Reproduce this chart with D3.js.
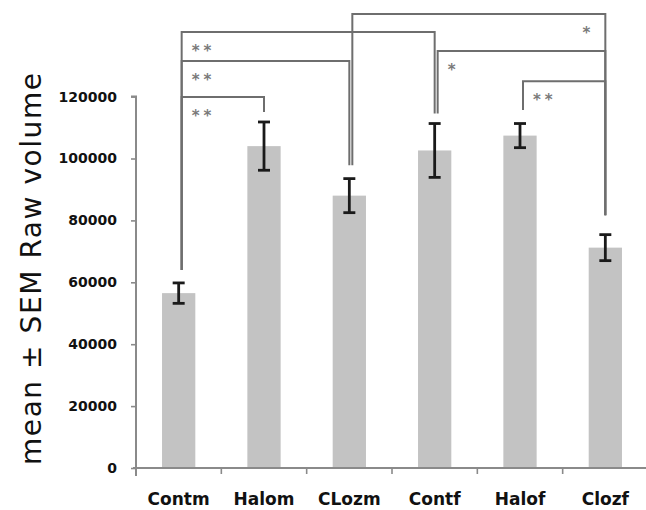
<!DOCTYPE html>
<html>
<head>
<meta charset="utf-8">
<script src="https://cdn.jsdelivr.net/npm/d3@7"></script>
<style>
  html, body { margin: 0; padding: 0; background: #fff; }
  svg { display: block; }
</style>
</head>
<body>
<svg id="chart" width="646" height="510"></svg>
<script>
// Group labels, group means and their standard errors
const categories = ["Contm", "Halom", "CLozm", "Contf", "Halof", "Clozf"];
const means = [56500, 104000, 88000, 102600, 107400, 71200];
const sems = [3300, 7800, 5500, 8700, 3900, 4200];
const yTicks = [0, 20000, 40000, 60000, 80000, 100000, 120000];
const yTitle = "mean \u00B1 SEM Raw volume";

// Significance brackets: which two groups, the level of the bar, the mark
const bracketPairs = [[0, 3], [0, 2], [0, 1], [2, 5], [3, 5], [4, 5]];
const bracketLevels = [140900, 131500, 119900, 146700, 134700, 125000];
const bracketMarks = ["**", "**", "**", "*", "*", "**"];
const bracketMarkSide = ["left", "left", "left", "right", "left", "left"];
// Where the bracket legs stop above each group
const legEnds = [64000, 115000, 97800, 114500, 115700, 81700];

const svg = d3.select("#chart");

const x = d3.scaleBand().domain(categories).range([136, 648]).paddingInner(0).paddingOuter(0);
const y = d3.scaleLinear().domain([0, 120000]).range([468, 96.6]);
const barW = x.bandwidth() * 0.39;
const cx = c => x(c) + x.bandwidth() / 2;

// Bars
svg.append("g").selectAll("rect")
  .data(categories)
  .join("rect")
  .attr("x", c => cx(c) - barW / 2)
  .attr("y", (c, i) => y(means[i]))
  .attr("width", barW)
  .attr("height", (c, i) => y(0) - y(means[i]))
  .attr("fill", "#c3c3c3");

// Error bars
const eb = svg.append("g").attr("stroke", "#1a1a1a").attr("stroke-width", 2.8);
categories.forEach((c, i) => {
  const xc = cx(c), lo = y(means[i] - sems[i]), hi = y(means[i] + sems[i]);
  eb.append("line").attr("x1", xc).attr("x2", xc).attr("y1", lo).attr("y2", hi);
  eb.append("line").attr("x1", xc - 6).attr("x2", xc + 6).attr("y1", lo).attr("y2", lo);
  eb.append("line").attr("x1", xc - 6).attr("x2", xc + 6).attr("y1", hi).attr("y2", hi);
});

// Y axis
const yAxis = d3.axisLeft(y).tickValues(yTicks).tickFormat(d3.format("d")).tickSize(5).tickPadding(14);
const gy = svg.append("g").attr("transform", "translate(136,0)").call(yAxis);
gy.select(".domain").attr("stroke", "#8a8a8a").attr("stroke-width", 2).attr("d", `M-5,${y(120000)}H0V${y(0) + 8}`);
gy.selectAll(".tick line").attr("stroke", "#8a8a8a").attr("stroke-width", 1.6);
gy.selectAll(".tick text")
  .attr("fill", "#111")
  .style("font-family", "'DejaVu Sans', Verdana, sans-serif")
  .style("font-weight", "bold")
  .style("font-size", "14px");

// X axis
const gx = svg.append("g").attr("transform", `translate(0,${y(0)})`);
gx.append("line").attr("x1", 133).attr("x2", 646).attr("y1", 0).attr("y2", 0)
  .attr("stroke", "#8a8a8a").attr("stroke-width", 2);
gx.selectAll("line.tk")
  .data(categories)
  .join("line")
  .attr("class", "tk")
  .attr("x1", c => x(c) + x.bandwidth()).attr("x2", c => x(c) + x.bandwidth())
  .attr("y1", 0).attr("y2", 6)
  .attr("stroke", "#8a8a8a").attr("stroke-width", 1.6);
gx.selectAll("text")
  .data(categories)
  .join("text")
  .attr("x", cx)
  .attr("y", 37)
  .attr("text-anchor", "middle")
  .attr("fill", "#111")
  .style("font-family", "'DejaVu Sans', Verdana, sans-serif")
  .style("font-weight", "bold")
  .style("font-size", "17px")
  .text(c => c);

// Y axis title
svg.append("text")
  .attr("transform", "translate(41,269) rotate(-90)")
  .attr("text-anchor", "middle")
  .attr("fill", "#111")
  .attr("textLength", 392)
  .attr("lengthAdjust", "spacing")
  .style("font-family", "'DejaVu Sans', Verdana, sans-serif")
  .style("font-size", "28px")
  .text(yTitle);

// Significance brackets
const gb = svg.append("g");
bracketPairs.forEach(([a, b], k) => {
  const xl = cx(categories[a]) + 3;
  const xr = cx(categories[b]);
  const yl = y(bracketLevels[k]);
  gb.append("path")
    .attr("d", `M${xl},${y(legEnds[a])}V${yl}H${xr}V${y(legEnds[b])}`)
    .attr("fill", "none")
    .attr("stroke", "#6e6e6e")
    .attr("stroke-width", 2);
  const right = bracketMarkSide[k] === "right";
  gb.append("text")
    .attr("x", right ? xr - 11 : xl + 10)
    .attr("y", yl + 24)
    .attr("text-anchor", right ? "end" : "start")
    .attr("fill", "#7a7a7a")
    .style("font-family", "'DejaVu Sans', sans-serif")
    .style("font-weight", "bold")
    .style("font-size", "15px")
    .style("letter-spacing", "4px")
    .text(bracketMarks[k]);
});
</script>
</body>
</html>
